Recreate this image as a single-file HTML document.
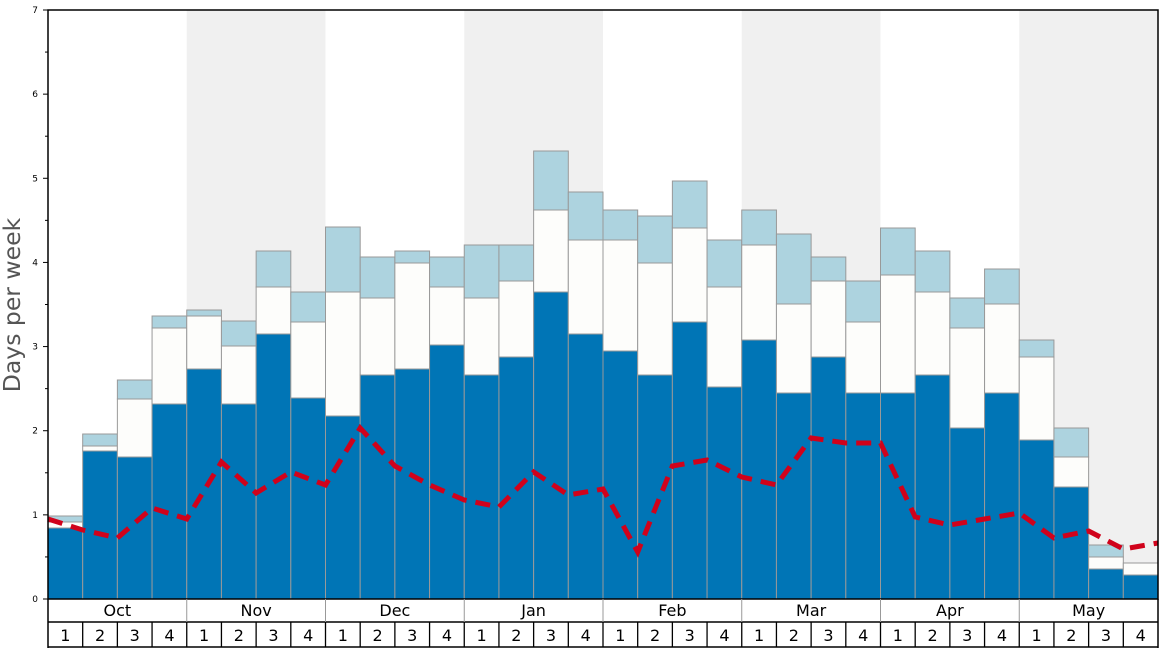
<!DOCTYPE html>
<html><head><meta charset="utf-8"><style>html,body{margin:0;padding:0;background:#fff}</style></head>
<body>
<svg id="s" width="1168" height="648" xmlns="http://www.w3.org/2000/svg" font-family="DejaVu Sans, Liberation Sans, sans-serif">
<rect x="0" y="0" width="1168" height="648" fill="#fff"/>
<g id="bg"></g>
<g id="bars"></g>
<polyline id="red" fill="none" stroke="#d0021b" stroke-width="5" stroke-dasharray="15,9" points=""/>
<rect x="48" y="10" width="1110" height="589" fill="none" stroke="#000" stroke-width="1.5"/>
<g id="axis" font-size="9" fill="#000"></g>
<text transform="translate(20,305) rotate(-90)" text-anchor="middle" font-size="23.5" fill="#555">Days per week</text>
<g id="bottom"></g>
</svg>
<script>
var NS="http://www.w3.org/2000/svg";
function el(p,t,a,txt){var e=document.createElementNS(NS,t);for(var k in a)e.setAttribute(k,a[k]);if(txt!=null)e.textContent=txt;document.getElementById(p).appendChild(e);return e;}
var W=1110/32;
var months=["Oct","Nov","Dec","Jan","Feb","Mar","Apr","May"];
for(var m=0;m<8;m++){if(m%2==1)el("bg","rect",{x:48+m*4*W,y:10,width:4*W,height:589,fill:"#f0f0f0"});}
var d=[[528,522,516],[451,446,434],[457,399,380],[404,328,316],[369,316,310],[404,346,321],[334,287,251],[398,322,292],[416,292,227],[375,298,257],[369,263,251],[345,287,257],[375,298,245],[357,281,245],[292,210,151],[334,240,192],[351,240,210],[375,263,216],[322,228,181],[387,287,240],[340,245,210],[393,304,234],[357,281,257],[393,322,281],[393,275,228],[375,292,251],[428,328,298],[393,304,269],[440,357,340],[487,457,428],[569,557,545],[575,563,563]];
for(var i=0;i<32;i++){var x=48+i*W,b=d[i];
if(b[2]<b[1])el("bars","rect",{x:x,y:b[2],width:W,height:b[1]-b[2],fill:"#add3df",stroke:"#999","stroke-width":1});
el("bars","rect",{x:x,y:b[1],width:W,height:b[0]-b[1],fill:"#fdfdfb",stroke:"#999","stroke-width":1});
el("bars","rect",{x:x,y:b[0],width:W,height:599-b[0],fill:"#0075b6",stroke:"#999","stroke-width":1});}
var r=[519,530,538,508,519,462,493,472,485,428,466,485,500,507,472,495,489,552,466,460,477,485,438,443,443,517,525,519,513,538,531,549,543];
var pts=[];for(var i=0;i<33;i++)pts.push((48+i*W)+","+r[i]);
document.getElementById("red").setAttribute("points",pts.join(" "));
var U=589/7;
for(var v=0;v<=7;v++){var y=599-v*U;el("axis","text",{x:38,y:y+3,"text-anchor":"end"},v);
el("axis","line",{x1:43,x2:48,y1:y,y2:y,stroke:"#000"});
if(v<7)el("axis","line",{x1:45,x2:48,y1:y-U/2,y2:y-U/2,stroke:"#000"});}
el("bottom","line",{x1:48,x2:1158,y1:622,y2:622,stroke:"#000","stroke-width":1.5});
el("bottom","line",{x1:48,x2:1158,y1:647,y2:647,stroke:"#000","stroke-width":1.5});
el("bottom","line",{x1:48,x2:48,y1:599,y2:648,stroke:"#000","stroke-width":1.5});
el("bottom","line",{x1:1158,x2:1158,y1:599,y2:648,stroke:"#000","stroke-width":1.5});
for(var m=0;m<8;m++){var x=48+m*4*W;
if(m>0)el("bottom","line",{x1:x,x2:x,y1:599,y2:622,stroke:"#999"});
el("bottom","text",{x:x+2*W,y:616,"text-anchor":"middle","font-size":16},months[m]);
for(var k=0;k<4;k++){var xx=x+k*W;if(m+k>0)el("bottom","line",{x1:xx,x2:xx,y1:622,y2:647,stroke:"#000","stroke-width":1.3});
el("bottom","text",{x:xx+W/2,y:641,"text-anchor":"middle","font-size":16},k+1);}}
</script>
</body></html>
